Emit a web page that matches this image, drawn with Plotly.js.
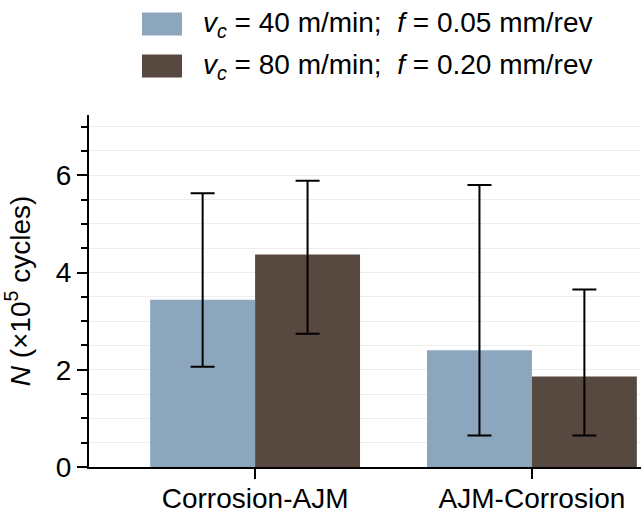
<!DOCTYPE html>
<html>
<head>
<meta charset="utf-8">
<script src="https://cdn.plot.ly/plotly-3.0.1.min.js"></script>
<style>html,body{margin:0;padding:0;background:#fff;}#chart{width:641px;height:514px;}</style>
</head>
<body>
<div id="chart"></div>
<script>
var categories = ['Corrosion-AJM', 'AJM-Corrosion'];
var seriesNames = ['<i>v</i><sub><i>c</i></sub> = 40 m/min;&nbsp; <i>f</i> = 0.05 mm/rev',
                   '<i>v</i><sub><i>c</i></sub> = 80 m/min;&nbsp; <i>f</i> = 0.20 mm/rev'];
var lowSpeed = [3.44, 2.40];
var lowSpeedErrUp = [2.19, 3.40];
var lowSpeedErrDown = [1.38, 1.75];
var highSpeed = [4.37, 1.86];
var highSpeedErrUp = [1.52, 1.79];
var highSpeedErrDown = [1.63, 1.21];
var yTicks = [0, 2, 4, 6];
var colors = ['#8ca6be', '#574840'];

var W = 641, H = 514, L = 89, R = 0, T = 115, B = 47;
function px(x){ return (x - L) / (W - L - R); }
function py(y){ return (H - B - y) / (H - T - B); }

var errStyle = {color:'#000', thickness:2, width:12};
var traces = [
  {type:'bar', x:categories, y:lowSpeed, name:seriesNames[0], marker:{color:colors[0]},
   error_y:Object.assign({type:'data', symmetric:false, array:lowSpeedErrUp, arrayminus:lowSpeedErrDown}, errStyle)},
  {type:'bar', x:categories, y:highSpeed, name:seriesNames[1], marker:{color:colors[1]},
   error_y:Object.assign({type:'data', symmetric:false, array:highSpeedErrUp, arrayminus:highSpeedErrDown}, errStyle)}
];

var font = {family:'Liberation Sans, Arial, sans-serif', size:28, color:'#000'};
var shapes = [], annotations = [];
[24, 66].forEach(function(cy, i){
  shapes.push({type:'rect', xref:'paper', yref:'paper', x0:px(142), x1:px(182), y0:py(cy-11.5), y1:py(cy+11.5),
               fillcolor:colors[i], line:{width:0}});
  annotations.push({xref:'paper', yref:'paper', x:px(201), y:py(cy), xanchor:'left', yanchor:'middle',
                    text:seriesNames[i], showarrow:false, font:font});
});

var layout = {
  width:W, height:H, margin:{l:L, r:R, t:T, b:B},
  paper_bgcolor:'#fff', plot_bgcolor:'#fff', font:font,
  showlegend:false, barmode:'group', bargap:0.242, bargroupgap:0,
  xaxis:{range:[-0.6, 1.394], showline:true, linecolor:'#000', linewidth:1.5, ticks:'outside', ticklen:10,
         tickwidth:1.5, tickcolor:'#000', showgrid:false, zeroline:false, tickfont:font, ticklabelstandoff:-4},
  yaxis:{range:[0, 7.24], tickvals:yTicks, showline:true, linecolor:'#000', linewidth:2, ticks:'outside',
         ticklen:10, tickwidth:2, tickcolor:'#000', showgrid:true, gridcolor:'#ededed', gridwidth:1,
         zeroline:false, tickfont:font,
         title:{text:'<i>N</i> (×10<sup>5</sup> cycles)', font:font, standoff:18},
         minor:{dtick:0.5, ticks:'outside', ticklen:6, tickwidth:2, tickcolor:'#000', showgrid:true, gridcolor:'#ededed', gridwidth:1}},
  shapes:shapes, annotations:annotations
};
Plotly.newPlot('chart', traces, layout, {staticPlot:true});
</script>
</body>
</html>
